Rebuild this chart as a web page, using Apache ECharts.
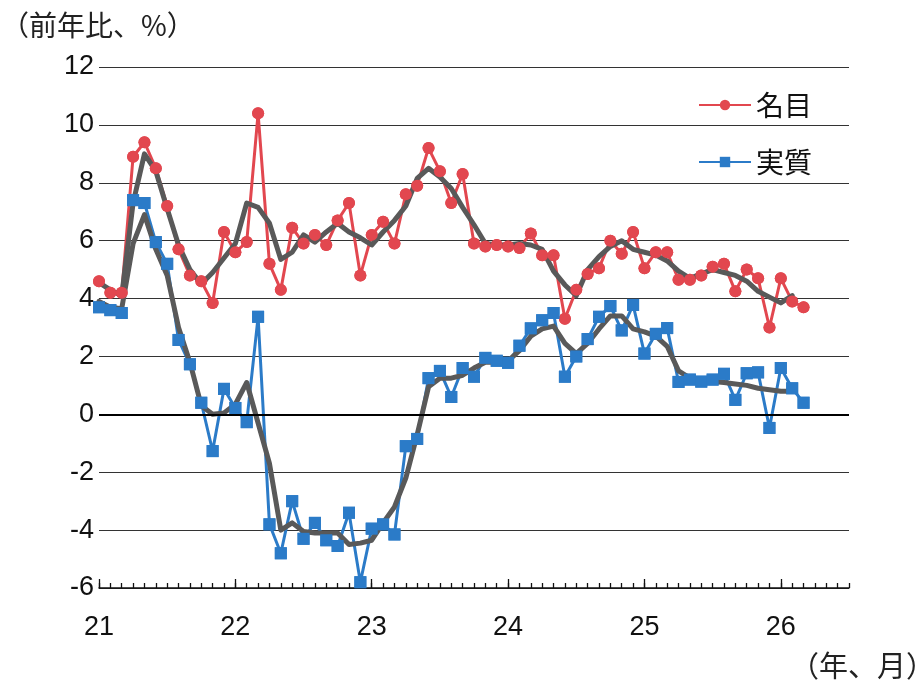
<!DOCTYPE html>
<html><head><meta charset="utf-8">
<script src="https://cdn.jsdelivr.net/npm/echarts@6/dist/echarts.min.js"></script>
<style>html,body{margin:0;padding:0;background:#fff}#c{width:916px;height:681px}</style>
</head><body><div id="c"></div>
<script>
// Year tick labels (two-digit years) and monthly categories Jan 2021 .. Jul 2026
const yearLabels = ['21', '22', '23', '24', '25', '26'];
const monthsPerYear = ['01','02','03','04','05','06','07','08','09','10','11','12'];
const lastYearMonths = ['01','02','03','04','05','06','07'];
const categories = [];
yearLabels.forEach((y, k) => {
  (k === yearLabels.length - 1 ? lastYearMonths : monthsPerYear).forEach(m => categories.push(y + '-' + m));
});

// 名目 (nominal), Jan 2021 .. Mar 2026
const nominal = [4.6, 4.2, 4.2, 8.9, 9.4, 8.5, 7.2, 5.7, 4.8, 4.6, 3.85, 6.3,
  5.6, 5.95, 10.4, 5.2, 4.3, 6.45, 5.9, 6.2, 5.85, 6.7, 7.3, 4.8,
  6.2, 6.65, 5.9, 7.6, 7.9, 9.2, 8.4, 7.3, 8.3, 5.9, 5.8, 5.85,
  5.8, 5.75, 6.25, 5.5, 5.5, 3.3, 4.3, 4.85, 5.05, 6.0, 5.55, 6.3,
  5.05, 5.6, 5.6, 4.65, 4.65, 4.8, 5.1, 5.2, 4.25, 5.0, 4.7, 3.0,
  4.7, 3.9, 3.7];
// 実質 (real), Jan 2021 .. Mar 2026
const real = [3.7, 3.6, 3.5, 7.4, 7.3, 5.95, 5.2, 2.57, 1.73, 0.4, -1.27, 0.88,
  0.22, -0.27, 3.37, -3.8, -4.8, -3.0, -4.3, -3.75, -4.35, -4.55, -3.4, -5.8,
  -3.95, -3.8, -4.15, -1.1, -0.85, 1.25, 1.5, 0.6, 1.6, 1.3, 1.95, 1.85,
  1.78, 2.37, 2.97, 3.25, 3.5, 1.3, 2.0, 2.6, 3.37, 3.74, 2.9, 3.78,
  2.1, 2.78, 2.98, 1.12, 1.2, 1.13, 1.2, 1.4, 0.5, 1.42, 1.45, -0.47,
  1.6, 0.9, 0.4];
// Trend (dark) lines, Jan 2021 .. Feb 2026
const nominalTrend = [4.55, 4.3, 4.1, 7.3, 9.0, 8.4, 7.1, 5.85, 5.0, 4.5, 4.9, 5.4,
  5.9, 7.3, 7.15, 6.6, 5.35, 5.6, 6.2, 5.95, 6.3, 6.6, 6.3, 6.1,
  5.85, 6.3, 6.7, 7.2, 8.15, 8.5, 8.2, 7.8, 7.15, 6.55, 5.9, 5.85,
  5.85, 5.9, 5.85, 5.7, 4.95, 4.47, 4.1, 5.0, 5.45, 5.8, 6.0, 5.7,
  5.6, 5.5, 5.3, 4.95, 4.7, 4.85, 5.0, 4.9, 4.8, 4.6, 4.25, 4.05,
  3.85, 4.1];
const realTrend = [3.9, 3.7, 3.65, 5.9, 6.9, 5.7, 4.8, 3.0, 1.8, 0.3, 0.0, 0.05,
  0.35, 1.1, -0.3, -1.7, -4.0, -3.75, -4.05, -4.1, -4.1, -4.1, -4.5, -4.45,
  -4.35, -3.75, -3.2, -2.2, -0.7, 0.95, 1.25, 1.25, 1.35, 1.6, 1.8, 1.8,
  1.85, 2.2, 2.7, 2.95, 3.05, 2.45, 2.1, 2.45, 2.95, 3.4, 3.4, 2.95,
  2.85, 2.7, 2.35, 1.5, 1.25, 1.13, 1.13, 1.1, 1.05, 1.0, 0.9, 0.85,
  0.8, 0.8];
const yTicks = { min: -6, max: 12, interval: 2 };

const RED = '#E2474F', BLUE = '#2B7BC8', DARK = '#595959';
const FONT = "'Liberation Sans', Arial, 'Noto Sans CJK JP', sans-serif";
const CJK = "'Noto Sans CJK JP', 'Liberation Sans', sans-serif";

const chart = echarts.init(document.getElementById('c'), null, { renderer: 'canvas' });
const markerOnly = (name, data, sym, color, size) => ({
  name, type: 'line', data, xAxisIndex: 0, symbol: sym, symbolSize: size,
  showSymbol: true, showAllSymbol: true,
  lineStyle: { opacity: 0 }, itemStyle: { color, borderWidth: 0 }, z: 5, silent: true
});
chart.setOption({
  animation: false,
  backgroundColor: '#fff',
  grid: { left: 99, right: 67, top: 67, bottom: 93 },
  graphic: [
    { type: 'text', left: 1, top: 11, style: { text: '（前年比、%）', font: '28px ' + CJK, fill: '#222' } },
    { type: 'text', left: 790, top: 651, style: { text: '（年、月）', font: '29px ' + CJK, fill: '#222' } }
  ],
  legend: {
    data: ['名目', '実質'], orient: 'vertical', left: 693, top: 85,
    itemWidth: 52, itemHeight: 13, itemGap: 27,
    textStyle: { fontFamily: CJK, fontSize: 28, color: '#111', lineHeight: 30 }
  },
  xAxis: [{
    type: 'category', data: categories, boundaryGap: false,
    axisLine: { onZero: false, lineStyle: { color: '#111', width: 1.5 } },
    axisTick: { show: true, interval: 0, inside: true, length: 5, lineStyle: { color: '#111', width: 1.3 } },
    axisLabel: {
      interval: 11, margin: 26, fontFamily: FONT, fontSize: 27, color: '#111',
      formatter: v => v.slice(0, 2)
    },
    splitLine: { show: false }
  }, {
    type: 'category', data: categories, boundaryGap: false, position: 'bottom',
    axisLine: { show: false, onZero: false },
    axisTick: { show: true, interval: 11, inside: true, length: 9, lineStyle: { color: '#111', width: 1.3 } },
    axisLabel: { show: false }, splitLine: { show: false }
  }],
  yAxis: {
    type: 'value', min: yTicks.min, max: yTicks.max, interval: yTicks.interval,
    axisLine: { show: false }, axisTick: { show: false },
    axisLabel: { fontFamily: FONT, fontSize: 27, color: '#111', margin: 5 },
    splitLine: { lineStyle: { color: '#333', width: 1.2 } }
  },
  series: [
    { name: '名目', type: 'line', data: nominal, symbol: 'circle', symbolSize: 12,
      showSymbol: true, showAllSymbol: true,
      lineStyle: { color: RED, width: 3 }, itemStyle: { color: RED }, z: 2 },
    { name: '実質', type: 'line', data: real, symbol: 'rect', symbolSize: 12,
      showSymbol: true, showAllSymbol: true,
      lineStyle: { color: BLUE, width: 3 }, itemStyle: { color: BLUE }, z: 2,
      markLine: { silent: true, symbol: 'none', label: { show: false },
        lineStyle: { color: '#000', width: 2, type: 'solid' }, data: [{ yAxis: 0 }] } },
    { name: 'nominalTrend', type: 'line', data: nominalTrend, symbol: 'none',
      lineStyle: { color: DARK, width: 5, join: 'round', cap: 'round' }, z: 3 },
    { name: 'realTrend', type: 'line', data: realTrend, symbol: 'none',
      lineStyle: { color: DARK, width: 5, join: 'round', cap: 'round' }, z: 3 },
    markerOnly('nominalMarks', nominal, 'circle', RED, 12),
    markerOnly('realMarks', real, 'rect', BLUE, 12)
  ]
});
</script></body></html>
